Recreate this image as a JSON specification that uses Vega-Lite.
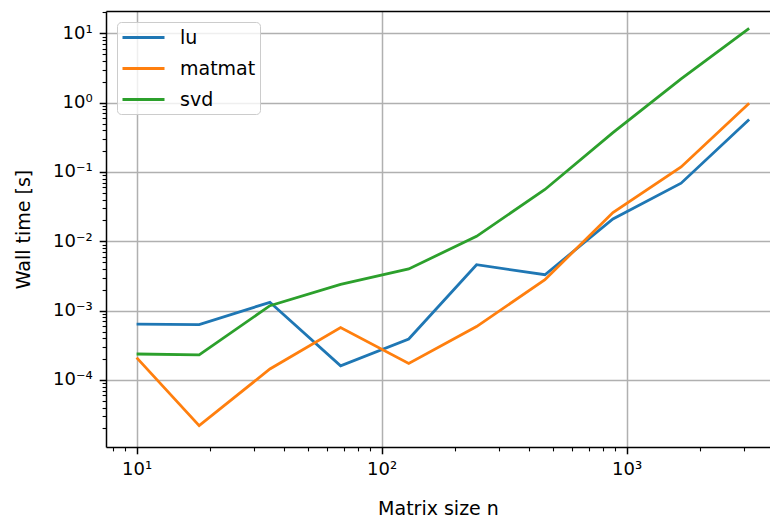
{
  "$schema": "https://vega.github.io/schema/vega-lite/v6.json",
  "width": 664,
  "height": 436,
  "autosize": {"type": "none"},
  "padding": {"left": 106, "top": 11, "right": 0, "bottom": 71},
  "background": "white",
  "config": {
    "view": {"stroke": null},
    "font": "DejaVu Sans",
    "axis": {
      "domainColor": "#000000",
      "domainWidth": 1.5,
      "tickColor": "#000000",
      "labelColor": "#000000",
      "titleColor": "#000000",
      "labelFont": "DejaVu Sans",
      "titleFont": "DejaVu Sans",
      "labelFontSize": 18,
      "titleFontSize": 19,
      "titleFontWeight": "normal",
      "gridColor": "#b0b0b0",
      "gridWidth": 1.5,
      "labelOverlap": false,
      "labelFlush": false,
      "labelBound": false
    }
  },
  "data": {
    "values": [
      {"n": 10, "t": 0.00064, "method": "lu"},
      {"n": 18, "t": 0.00063, "method": "lu"},
      {"n": 35, "t": 0.00132, "method": "lu"},
      {"n": 68, "t": 0.00016, "method": "lu"},
      {"n": 129, "t": 0.00039, "method": "lu"},
      {"n": 244, "t": 0.0046, "method": "lu"},
      {"n": 464, "t": 0.0033, "method": "lu"},
      {"n": 879, "t": 0.021, "method": "lu"},
      {"n": 1668, "t": 0.069, "method": "lu"},
      {"n": 3162, "t": 0.57, "method": "lu"},
      {"n": 10, "t": 0.00021, "method": "matmat"},
      {"n": 18, "t": 0.000022, "method": "matmat"},
      {"n": 35, "t": 0.000144, "method": "matmat"},
      {"n": 68, "t": 0.00057, "method": "matmat"},
      {"n": 129, "t": 0.000173, "method": "matmat"},
      {"n": 244, "t": 0.00059, "method": "matmat"},
      {"n": 464, "t": 0.0028, "method": "matmat"},
      {"n": 879, "t": 0.026, "method": "matmat"},
      {"n": 1668, "t": 0.118, "method": "matmat"},
      {"n": 3162, "t": 0.98, "method": "matmat"},
      {"n": 10, "t": 0.000237, "method": "svd"},
      {"n": 18, "t": 0.00023, "method": "svd"},
      {"n": 35, "t": 0.00118, "method": "svd"},
      {"n": 68, "t": 0.0024, "method": "svd"},
      {"n": 129, "t": 0.004, "method": "svd"},
      {"n": 244, "t": 0.0118, "method": "svd"},
      {"n": 464, "t": 0.056, "method": "svd"},
      {"n": 879, "t": 0.37, "method": "svd"},
      {"n": 1668, "t": 2.2, "method": "svd"},
      {"n": 3162, "t": 11.8, "method": "svd"}
    ]
  },
  "layer": [
    {
      "mark": {"type": "line", "strokeWidth": 2.8, "clip": true},
      "encoding": {
        "x": {
          "field": "n",
          "type": "quantitative",
          "scale": {"type": "log", "domain": [7.5, 3846], "nice": false},
          "axis": {
            "title": "Matrix size n",
            "titlePadding": 21,
            "values": [8, 9, 10, 20, 30, 40, 50, 60, 70, 80, 90, 100, 200, 300, 400, 500, 600, 700, 800, 900, 1000, 2000, 3000],
            "labelExpr": "abs(log(datum.value)/LN10 - round(log(datum.value)/LN10)) < 1e-6 ? ['10⁰','10¹','10²','10³','10⁴'][round(log(datum.value)/LN10)] : ''",
            "labelPadding": 7,
            "grid": true,
            "gridOpacity": {"condition": {"test": "abs(log(datum.value)/LN10 - round(log(datum.value)/LN10)) < 1e-6", "value": 1}, "value": 0},
            "tickSize": {"condition": {"test": "abs(log(datum.value)/LN10 - round(log(datum.value)/LN10)) < 1e-6", "value": 6.8}, "value": 3.9},
            "tickWidth": {"condition": {"test": "abs(log(datum.value)/LN10 - round(log(datum.value)/LN10)) < 1e-6", "value": 1.5}, "value": 1.1}
          }
        },
        "y": {
          "field": "t",
          "type": "quantitative",
          "scale": {"type": "log", "domain": [1.08e-5, 21], "nice": false},
          "axis": {
            "title": "Wall time [s]",
            "titlePadding": 19,
            "values": [2e-5, 3e-5, 4e-5, 5e-5, 6e-5, 7e-5, 8e-5, 9e-5, 1e-4, 2e-4, 3e-4, 4e-4, 5e-4, 6e-4, 7e-4, 8e-4, 9e-4, 1e-3, 2e-3, 3e-3, 4e-3, 5e-3, 6e-3, 7e-3, 8e-3, 9e-3, 1e-2, 2e-2, 3e-2, 4e-2, 5e-2, 6e-2, 7e-2, 8e-2, 9e-2, 0.1, 0.2, 0.3, 0.4, 0.5, 0.6, 0.7, 0.8, 0.9, 1, 2, 3, 4, 5, 6, 7, 8, 9, 10, 20],
            "labelExpr": "abs(log(datum.value)/LN10 - round(log(datum.value)/LN10)) < 1e-6 ? ['10⁻⁵','10⁻⁴','10⁻³','10⁻²','10⁻¹','10⁰','10¹','10²'][round(log(datum.value)/LN10) + 5] : ''",
            "labelPadding": 7,
            "grid": true,
            "gridOpacity": {"condition": {"test": "abs(log(datum.value)/LN10 - round(log(datum.value)/LN10)) < 1e-6", "value": 1}, "value": 0},
            "tickSize": {"condition": {"test": "abs(log(datum.value)/LN10 - round(log(datum.value)/LN10)) < 1e-6", "value": 6.8}, "value": 3.9},
            "tickWidth": {"condition": {"test": "abs(log(datum.value)/LN10 - round(log(datum.value)/LN10)) < 1e-6", "value": 1.5}, "value": 1.1}
          }
        },
        "color": {
          "field": "method",
          "type": "nominal",
          "scale": {"domain": ["lu", "matmat", "svd"], "range": ["#1f77b4", "#ff7f0e", "#2ca02c"]},
          "legend": {
            "title": null,
            "orient": "top-left",
            "offset": 11,
            "padding": 4,
            "fillColor": "rgba(255,255,255,0.8)",
            "strokeColor": "#cccccc",
            "cornerRadius": 4,
            "symbolType": "M-1,0H3.2",
            "symbolSize": 400,
            "symbolStrokeWidth": 2.8,
            "labelFontSize": 19,
            "labelFont": "DejaVu Sans",
            "labelColor": "#000000",
            "labelOffset": 36,
            "rowPadding": 9
          }
        }
      }
    },
    {
      "mark": {"type": "line", "opacity": 0},
      "encoding": {
        "x": {
          "field": "n",
          "type": "quantitative",
          "axis": {"orient": "top", "labels": false, "ticks": false, "grid": false, "title": null, "domain": true}
        },
        "y": {"field": "t", "type": "quantitative"}
      }
    }
  ],
  "resolve": {"axis": {"x": "independent"}}
}
